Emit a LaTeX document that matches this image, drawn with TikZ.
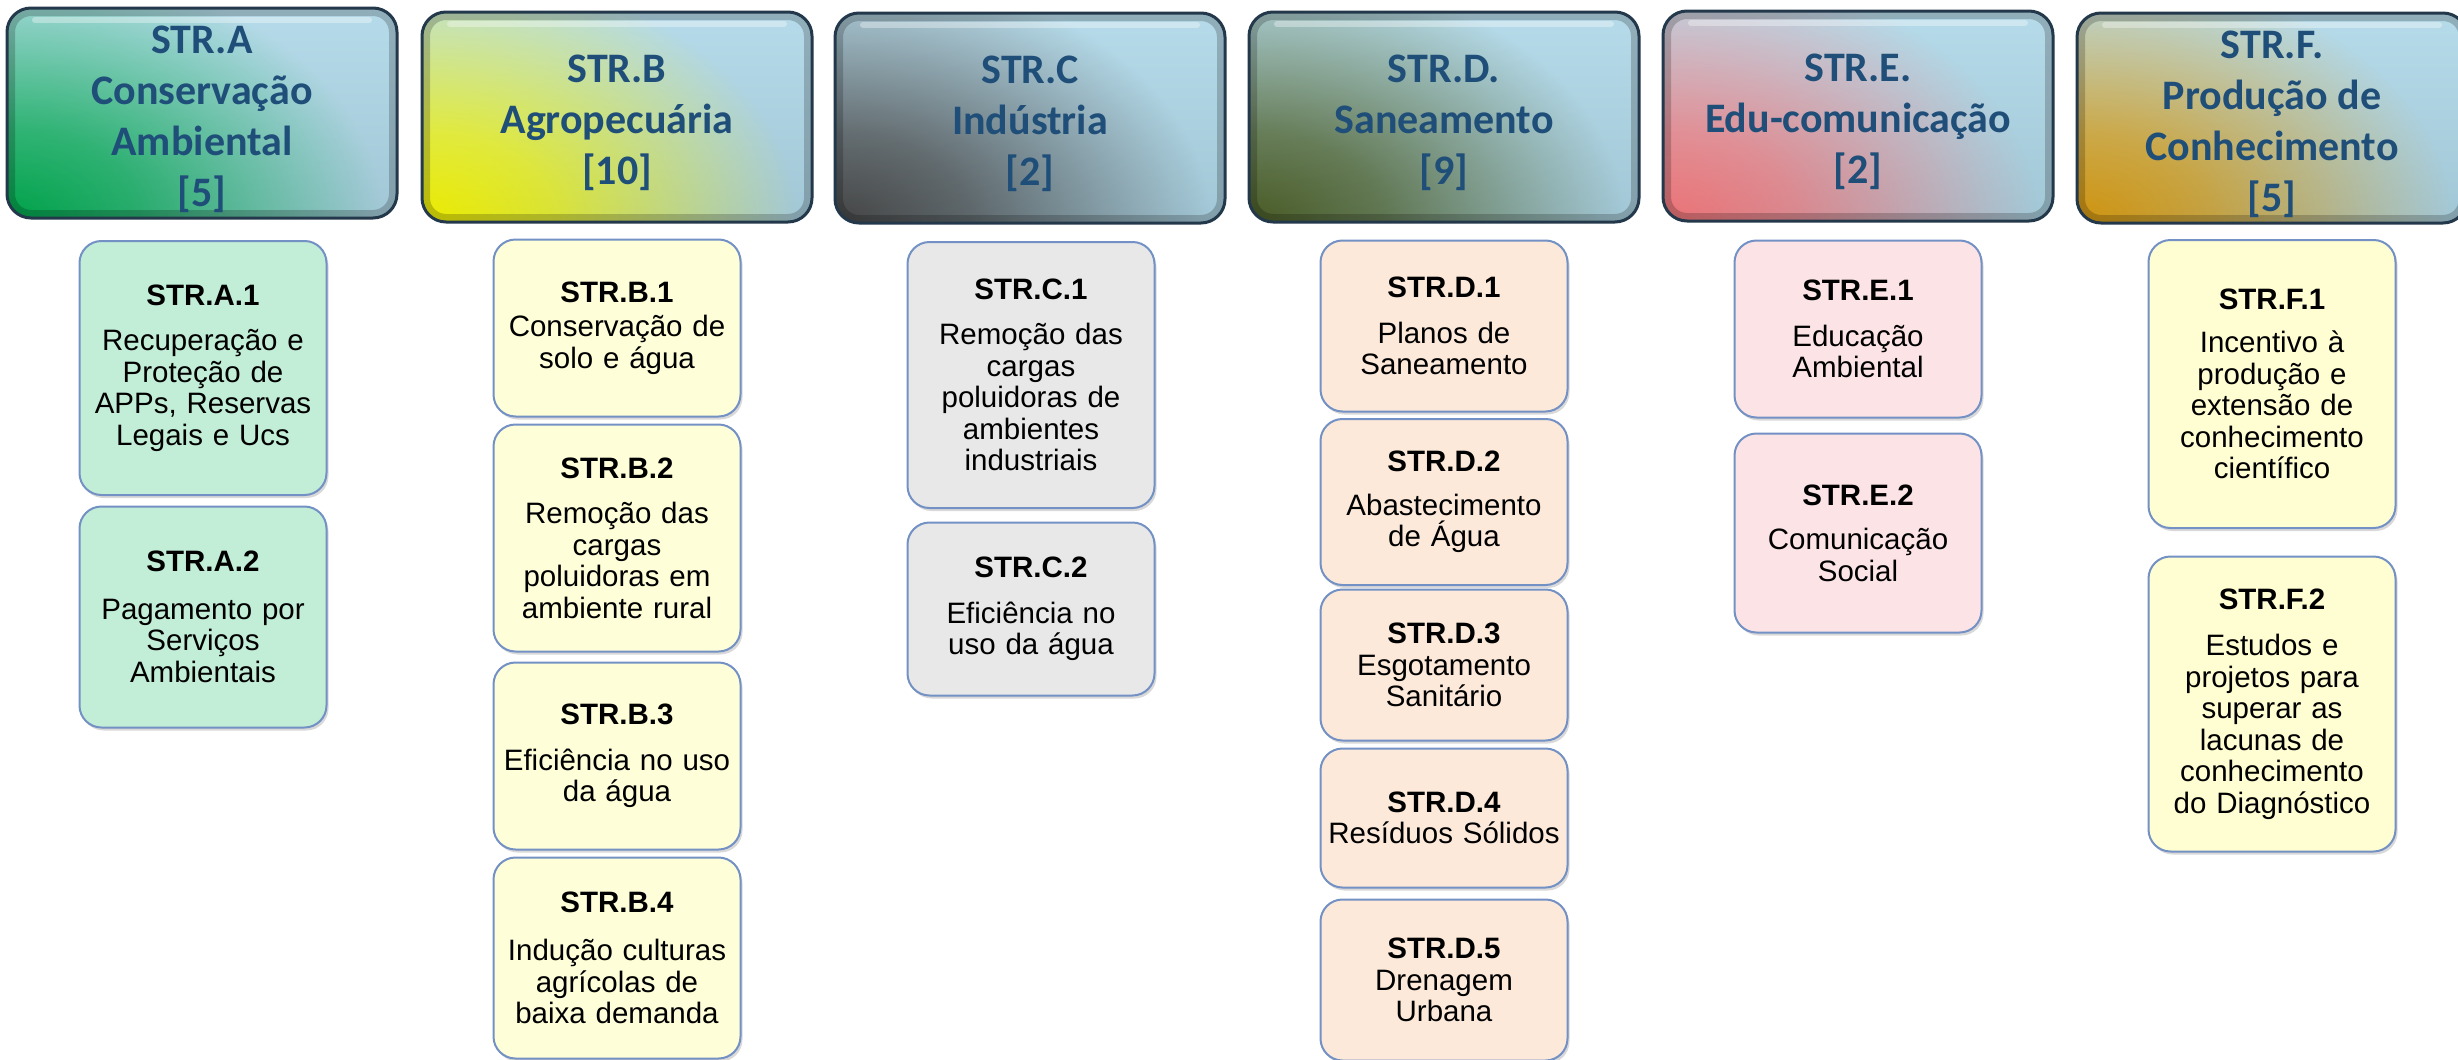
\documentclass[tikz,border=0pt]{standalone}
\usepackage{fontspec}
\setmainfont{Liberation Sans}
\newfontfamily\calfont{Carlito}
\usetikzlibrary{
    shadows
}

\definecolor{hdline}{HTML}{23384A}
\definecolor{hdtext}{HTML}{1F4E79}
\definecolor{hdbase}{HTML}{B0D8E8}
\definecolor{hdacc}{HTML}{00B050}
\definecolor{accA}{HTML}{00B050}
\definecolor{accB}{HTML}{FFFF00}
\definecolor{accC}{HTML}{4A4A4A}
\definecolor{accD}{HTML}{4F6228}
\definecolor{accE}{HTML}{FF7C80}
\definecolor{accF}{HTML}{E0A010}
\definecolor{subline}{HTML}{7391C4}
\definecolor{fillA}{HTML}{C2EDD6}
\definecolor{fillB}{HTML}{FEFED8}
\definecolor{fillC}{HTML}{E8E8E8}
\definecolor{fillD}{HTML}{FCE9D9}
\definecolor{fillE}{HTML}{FCE4E6}
\definecolor{fillF}{HTML}{FFFDD2}

\pgfdeclareradialshading[hdacc]{cornerglow}{\pgfpointorigin}{%
    color(0bp)=(hdacc); color(7bp)=(hdacc!75!hdbase);
    color(20bp)=(hdbase); color(50bp)=(hdbase)}

\newcommand{\hdstrut}{\rule{0pt}{40pt}}

\tikzset{
    head/.style={draw=hdline, line width=3pt, rounded corners=24pt,
        minimum width=390pt, minimum height=210pt, inner sep=0pt,
        fill=hdbase, text=hdtext, align=center,
        font=\calfont\bfseries\fontsize{42}{51}\selectfont,
        path picture={
            \colorlet{hdacc}{#1}
            \shade[shading=cornerglow]
                (path picture bounding box.south west) ellipse (470pt and 320pt);
            \shade[top color=white, bottom color=black, opacity=.08]
                (path picture bounding box.south west) rectangle (path picture bounding box.north east);
            \draw[black, opacity=.2, line width=16pt, rounded corners=24pt]
                (path picture bounding box.south west) rectangle (path picture bounding box.north east);
            \draw[white, opacity=.35, line width=6pt, line cap=round]
                ([xshift=28pt, yshift=-12pt]path picture bounding box.north west)
                -- ([xshift=-28pt, yshift=-12pt]path picture bounding box.north east);
        }},
    sub/.style={draw=subline, line width=2pt, rounded corners=22pt, fill=#1,
        minimum width=247pt, text width=240pt, inner sep=0pt, align=center,
        font=\fontsize{29.5}{31.5}\selectfont,
        drop shadow={shadow xshift=2pt, shadow yshift=-3pt, opacity=.3}}
}

\begin{document}
\begin{tikzpicture}[x=1pt, y=-1pt]
    \useasboundingbox (0,0) rectangle (2458,1060);

    % headers
    \node[head=accA] (ha) at (202,113) {\hdstrut STR.A\\Conservação\\Ambiental\\{[5]}};
    \node[head=accB] (hb) at (617,117) {\hdstrut STR.B\\Agropecuária\\{[10]}};
    \node[head=accC] (hc) at (1030,118) {\hdstrut STR.C\\Indústria\\{[2]}};
    \node[head=accD] (hd) at (1444,117) {\hdstrut STR.D.\\Saneamento\\{[9]}};
    \node[head=accE] (he) at (1858,116) {\hdstrut STR.E.\\Edu-comunicação\\{[2]}};
    \node[head=accF] (hf) at (2272,118) {\hdstrut STR.F.\\Produção de\\Conhecimento\\{[5]}};

    % A
    \node[sub=fillA, minimum height=254pt] (a1) at (203,368)
        {\textbf{STR.A.1}\\[14pt]Recuperação e\\Proteção de\\APPs, Reservas\\Legais e Ucs};
    \node[sub=fillA, minimum height=221pt] (a2) at (203,617)
        {\textbf{STR.A.2}\\[16pt]Pagamento por\\Serviços\\Ambientais};

    % B
    \node[sub=fillB, minimum height=177pt] (b1) at (617,328)
        {\textbf{STR.B.1}\\[3pt]Conservação de\\solo e água};
    \node[sub=fillB, minimum height=227pt] (b2) at (617,538)
        {\textbf{STR.B.2}\\[14pt]Remoção das\\cargas\\poluidoras em\\ambiente rural};
    \node[sub=fillB, minimum height=187pt] (b3) at (617,756)
        {\textbf{STR.B.3}\\[14pt]Eficiência no uso\\da água};
    \node[sub=fillB, minimum height=201pt] (b4) at (617,958)
        {\textbf{STR.B.4}\\[17pt]Indução culturas\\agrícolas de\\baixa demanda};

    % C
    \node[sub=fillC, minimum height=266pt] (c1) at (1031,375)
        {\textbf{STR.C.1}\\[14pt]Remoção das\\cargas\\poluidoras de\\ambientes\\industriais};
    \node[sub=fillC, minimum height=173pt] (c2) at (1031,609)
        {\textbf{STR.C.2}\\[14pt]Eficiência no\\uso da água};

    % D
    \node[sub=fillD, minimum height=171pt] (d1) at (1444,326)
        {\textbf{STR.D.1}\\[14pt]Planos de\\Saneamento};
    \node[sub=fillD, minimum height=166pt] (d2) at (1444,502)
        {\textbf{STR.D.2}\\[12pt]Abastecimento\\de Água};
    \node[sub=fillD, minimum height=151pt] (d3) at (1444,665)
        {\textbf{STR.D.3}\\Esgotamento\\Sanitário};
    \node[sub=fillD, minimum height=139pt] (d4) at (1444,818)
        {\textbf{STR.D.4}\\Resíduos Sólidos};
    \node[sub=fillD, minimum height=161pt] (d5) at (1444,980)
        {\textbf{STR.D.5}\\Drenagem\\Urbana};

    % E
    \node[sub=fillE, minimum height=177pt] (e1) at (1858,329)
        {\textbf{STR.E.1}\\[14pt]Educação\\Ambiental};
    \node[sub=fillE, minimum height=199pt] (e2) at (1858,533)
        {\textbf{STR.E.2}\\[13pt]Comunicação\\Social};

    % F
    \node[sub=fillF, minimum height=288pt] (f1) at (2272,384)
        {\textbf{STR.F.1}\\[12pt]Incentivo à\\produção e\\extensão de\\conhecimento\\científico};
    \node[sub=fillF, minimum height=295pt] (f2) at (2272,704)
        {\textbf{STR.F.2}\\[15pt]Estudos e\\projetos para\\superar as\\lacunas de\\conhecimento\\do Diagnóstico};
\end{tikzpicture}
\end{document}
